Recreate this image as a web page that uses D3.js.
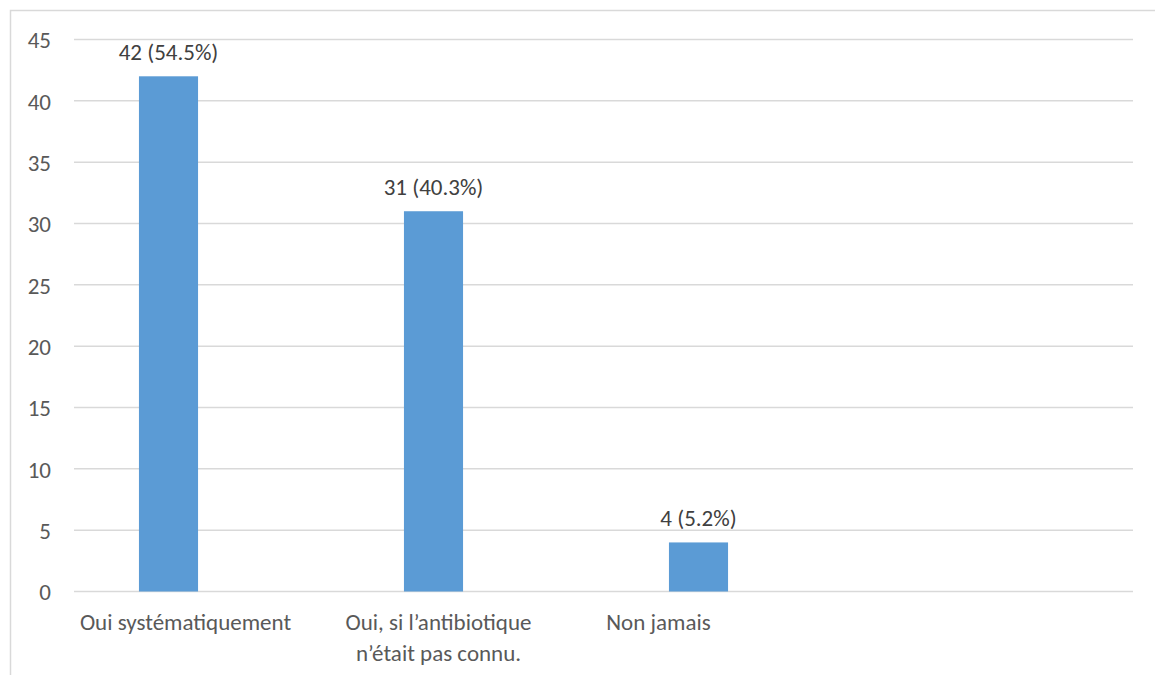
<!DOCTYPE html>
<html><head><meta charset="utf-8">
<script src="https://cdn.jsdelivr.net/npm/d3@7"></script>
<style>body{margin:0;background:#fff;}svg{display:block;}</style>
</head><body>
<script>
const categories = ["Oui systématiquement", "Oui, si l’antibiotique|n’était pas connu.", "Non jamais", ""];
const values = [42, 31, 4, null];
const labels = ["42 (54.5%)", "31 (40.3%)", "4 (5.2%)", ""];
const yTicks = [0, 5, 10, 15, 20, 25, 30, 35, 40, 45];

const W = 1155, H = 675;
const svg = d3.select("body").append("svg").attr("width", W).attr("height", H);
const font = "Carlito, Calibri, Lato, sans-serif";
const fs = 23;
// layout: horizontal shift of each category label relative to its bar centre
const catLabelDx = [17, 5, -40, 0];

// outer frame
svg.append("path").attr("d", `M10.5,${H} V10.5 H${W}`).attr("fill", "none").attr("stroke", "#D9D9D9").attr("stroke-width", 1.5);

const x = d3.scaleBand().domain(categories).range([36, 1096]).paddingInner(0.777).paddingOuter(0.3885);
const y = d3.scaleLinear().domain([0, 45]).range([591.5, 39.5]);

// gridlines
svg.append("g").selectAll("line").data(yTicks).join("line")
  .attr("x1", 74).attr("x2", 1133)
  .attr("y1", d => y(d)).attr("y2", d => y(d))
  .attr("stroke", "#D9D9D9").attr("stroke-width", 1.5);

// y axis labels
const yAxis = d3.axisLeft(y).tickValues(yTicks).tickSize(0).tickPadding(0);
svg.append("g").attr("transform", "translate(51,0)").call(yAxis)
  .call(g => g.select(".domain").remove())
  .selectAll("text").attr("font-family", font).attr("font-size", fs).attr("fill", "#595959").attr("dy", "0.36em");

// bars
const data = categories.map((c, i) => ({c, v: values[i], l: labels[i]})).filter(d => d.v != null);
svg.append("g").selectAll("rect").data(data).join("rect")
  .attr("x", d => x(d.c)).attr("width", x.bandwidth())
  .attr("y", d => y(d.v)).attr("height", d => y(0) - y(d.v))
  .attr("fill", "#5B9BD5");

// value labels
svg.append("g").selectAll("text").data(data).join("text")
  .attr("x", d => x(d.c) + x.bandwidth() / 2).attr("y", d => y(d.v) - 16)
  .attr("text-anchor", "middle").attr("font-family", font).attr("font-size", fs).attr("fill", "#404040")
  .text(d => d.l);

// category labels
const cg = svg.append("g").selectAll("text").data(categories).join("text")
  .attr("x", (d, i) => x(d) + x.bandwidth() / 2 + catLabelDx[i]).attr("y", 630)
  .attr("text-anchor", "middle").attr("font-family", font).attr("font-size", fs).attr("fill", "#595959");
cg.each(function(d) {
  const parts = d.split("|");
  const t = d3.select(this);
  parts.forEach((p, i) => t.append("tspan").attr("x", t.attr("x")).attr("dy", i ? 31 : 0).text(p));
});
</script>
</body></html>
